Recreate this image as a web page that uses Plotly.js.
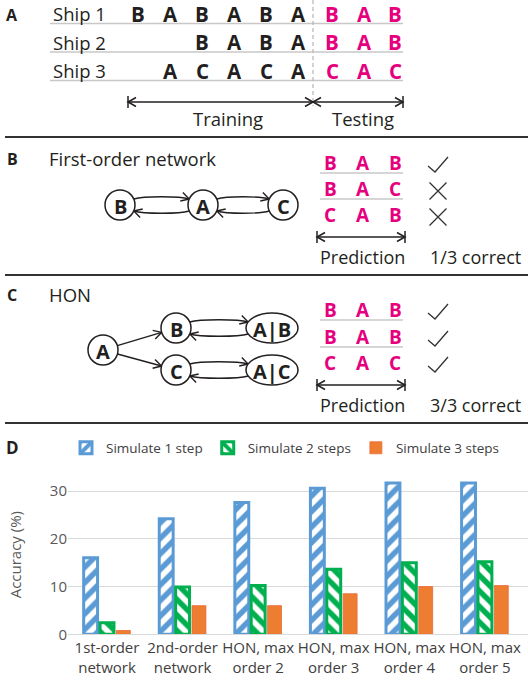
<!DOCTYPE html>
<html>
<head>
<meta charset="utf-8">
<script src="https://cdn.plot.ly/plotly-3.0.1.min.js"></script>
<style>html,body{margin:0;padding:0;background:#fff;}#chart{width:528px;height:686px;}</style>
</head>
<body>
<div id="chart"></div>
<script>
// ---------- Panel A: ship sequences ----------
const shipLabels = ['Ship 1', 'Ship 2', 'Ship 3'];
const trainSeqs = [
  ['B', 'A', 'B', 'A', 'B', 'A'],
  ['B', 'A', 'B', 'A'],
  ['A', 'C', 'A', 'C', 'A']
];
const testSeqs = [
  ['B', 'A', 'B'],
  ['B', 'A', 'B'],
  ['C', 'A', 'C']
];
const phaseLabels = ['Training', 'Testing'];

// ---------- Panel B: first-order network ----------
const firstOrderTitle = 'First-order network';
const firstOrderNodes = ['B', 'A', 'C'];
const firstOrderPred = [['B', 'A', 'B'], ['B', 'A', 'C'], ['C', 'A', 'B']];
const firstOrderCorrect = [true, false, false];
const firstOrderScore = '1/3 correct';

// ---------- Panel C: HON ----------
const honTitle = 'HON';
const honNodes = ['A', 'B', 'C', 'A|B', 'A|C'];
const honPred = [['B', 'A', 'B'], ['B', 'A', 'B'], ['C', 'A', 'C']];
const honCorrect = [true, true, true];
const honScore = '3/3 correct';
const predLabel = 'Prediction';

// ---------- Panel D: accuracy bars ----------
const categories = ['1st-order<br>network', '2nd-order<br>network', 'HON, max<br>order 2',
                    'HON, max<br>order 3', 'HON, max<br>order 4', 'HON, max<br>order 5'];
const seriesNames = ['Simulate 1 step', 'Simulate 2 steps', 'Simulate 3 steps'];
const step1 = [16.0, 24.2, 27.6, 30.6, 31.7, 31.7];
const step2 = [2.4, 9.9, 10.2, 13.6, 15.0, 15.2];
const step3 = [0.8, 6.0, 6.0, 8.5, 10.0, 10.2];
const yTicks = [0, 10, 20, 30];
const yTitle = 'Accuracy (%)';
const panelLabels = ['A', 'B', 'C', 'D'];

// ---------- styling helpers ----------
const FONT = '"Open Sans", "Noto Sans", sans-serif';
const INK = '#231f20';
const MAG = '#e6007e';
const RULE = '#c8c8c8';
const shapes = [];
const annos = [];

function T(x, y, text, size, color, extra) {
  annos.push(Object.assign({xref: 'x2', yref: 'y2', x: x, y: y, text: text, showarrow: false,
    xanchor: 'center', yanchor: 'middle', font: {family: FONT, size: size, color: color}}, extra || {}));
}
function L(x0, y0, x1, y1, color, width, dash) {
  shapes.push({type: 'line', xref: 'x2', yref: 'y2', x0: x0, y0: y0, x1: x1, y1: y1,
    line: {color: color, width: width, dash: dash || 'solid'}});
}
function P(path, color, width) {
  shapes.push({type: 'path', xref: 'x2', yref: 'y2', path: path, line: {color: color, width: width}});
}
function head(tx, ty, dx, dy) {
  const n = Math.hypot(dx, dy); dx /= n; dy /= n;
  const len = 8, w = 4.5;
  const bx = tx - dx * len, by = ty - dy * len;
  return 'M' + (bx - dy * w) + ',' + (by + dx * w) + ' L' + tx + ',' + ty + ' L' + (bx + dy * w) + ',' + (by - dx * w);
}
function dimArrow(x0, x1, y, mids) {
  L(x0, y, x1, y, INK, 1.5);
  L(x0, y - 6, x0, y + 6, INK, 1.5);
  L(x1, y - 6, x1, y + 6, INK, 1.5);
  P(head(x0, y, -1, 0), INK, 1.5);
  P(head(x1, y, 1, 0), INK, 1.5);
  (mids || []).forEach(function (m) {
    P(head(m, y, 1, 0), INK, 1.5);
    P(head(m, y, -1, 0), INK, 1.5);
  });
}
function node(cx, cy, rx, ry, label) {
  shapes.push({type: 'circle', xref: 'x2', yref: 'y2', x0: cx - rx, x1: cx + rx, y0: cy - ry, y1: cy + ry,
    line: {color: INK, width: 1.5}, fillcolor: 'white'});
  T(cx, cy + 1, '<b>' + label + '</b>', 20, INK);
}
function edgeX(rx, ry, dy) { return rx * Math.sqrt(1 - (dy * dy) / (ry * ry)); }
function dblArrow(x1, rx1, ry1, x2, rx2, ry2, y) {
  const off = 6;
  const sx = x1 + edgeX(rx1, ry1, off), ex = x2 - edgeX(rx2, ry2, off);
  P('M' + sx + ',' + (y - off) + ' C' + (sx + 10) + ',' + (y - off - 3) + ' ' + (ex - 10) + ',' + (y - off - 3) + ' ' + ex + ',' + (y - off), INK, 1.4);
  P(head(ex, y - off, 10, 3), INK, 1.4);
  P('M' + ex + ',' + (y + off) + ' C' + (ex - 10) + ',' + (y + off + 3) + ' ' + (sx + 10) + ',' + (y + off + 3) + ' ' + sx + ',' + (y + off), INK, 1.4);
  P(head(sx, y + off, -10, -3), INK, 1.4);
}
function straightArrow(ax, ay, ar, bx, by, br) {
  const dx = bx - ax, dy = by - ay, n = Math.hypot(dx, dy);
  const ux = dx / n, uy = dy / n;
  const sx = ax + ux * ar, sy = ay + uy * ar, ex = bx - ux * br, ey = by - uy * br;
  P('M' + sx + ',' + sy + ' L' + ex + ',' + ey, INK, 1.4);
  P(head(ex, ey, ux, uy), INK, 1.4);
}
function mark(cx, cy, ok) {
  if (ok) P('M' + (cx - 10) + ',' + (cy + 1) + ' L' + (cx - 3) + ',' + (cy + 7) + ' L' + (cx + 10) + ',' + (cy - 8), '#333', 1.3);
  else P('M' + (cx - 8.5) + ',' + (cy - 8.5) + ' L' + (cx + 8.5) + ',' + (cy + 8.5) + ' M' + (cx - 8.5) + ',' + (cy + 8.5) + ' L' + (cx + 8.5) + ',' + (cy - 8.5), '#333', 1.3);
}
function predBlock(preds, correct, score, rowY, arrowY, textY) {
  const px = [330, 363, 395];
  preds.forEach(function (seq, i) {
    seq.forEach(function (ch, j) { T(px[j], rowY[i], '<b>' + ch + '</b>', 19, MAG); });
    if (i < preds.length - 1) L(320, rowY[i] + 10, 403, rowY[i] + 10, RULE, 1.5);
    mark(438, rowY[i] + 2, correct[i]);
  });
  dimArrow(317, 405, arrowY);
  T(362, textY, predLabel, 18, INK);
  T(475, textY, score, 18, INK);
}

// ---------- Panel A ----------
T(12, 15, '<b>' + panelLabels[0] + '</b>', 16, INK);
const rowY = [13.5, 42, 70.5];
const trainX = [138, 170, 202, 234, 266, 298];
const testX = [332, 364, 395];
shipLabels.forEach(function (s, i) {
  T(51, rowY[i], s, 18.5, INK, {xanchor: 'left'});
  const seq = trainSeqs[i], start = trainX.length - seq.length;
  seq.forEach(function (ch, j) { T(trainX[start + j], rowY[i], '<b>' + ch + '</b>', 20.5, INK); });
  testSeqs[i].forEach(function (ch, j) { T(testX[j], rowY[i], '<b>' + ch + '</b>', 20.5, MAG); });
  L(50, rowY[i] + 10, 403, rowY[i] + 10, RULE, 1.5);
});
L(313, 0, 313, 106, '#b5b5b5', 1.2, '4px,3px');
dimArrow(128, 403, 102, [313]);
T(228, 118, phaseLabels[0], 18.5, INK);
T(363, 118, phaseLabels[1], 18.5, INK);
L(5, 137, 528, 137, '#333', 2);

// ---------- Panel B ----------
T(12, 159, '<b>' + panelLabels[1] + '</b>', 16, INK);
T(47, 158, firstOrderTitle, 18.5, INK, {xanchor: 'left'});
const bNodeX = [120, 203, 283];
dblArrow(bNodeX[0], 15, 15, bNodeX[1], 15, 15, 205);
dblArrow(bNodeX[1], 15, 15, bNodeX[2], 15, 15, 205);
firstOrderNodes.forEach(function (n, i) { node(bNodeX[i], 205, 15, 15, n); });
predBlock(firstOrderPred, firstOrderCorrect, firstOrderScore, [163, 189, 215], 237, 257);
L(5, 275, 528, 275, '#333', 2);

// ---------- Panel C ----------
T(12, 295, '<b>' + panelLabels[2] + '</b>', 16, INK);
T(47, 294, honTitle, 18.5, INK, {xanchor: 'left'});
const hPos = {A: [103, 350, 15, 15], B: [176, 328, 15, 15], C: [176, 370, 15, 15],
              'A|B': [272, 328, 26, 15], 'A|C': [272, 370, 26, 15]};
straightArrow(103, 350, 15, 176, 328, 15);
straightArrow(103, 350, 15, 176, 370, 15);
dblArrow(176, 15, 15, 272, 26, 15, 328);
dblArrow(176, 15, 15, 272, 26, 15, 370);
honNodes.forEach(function (n) { const p = hPos[n]; node(p[0], p[1], p[2], p[3], n); });
predBlock(honPred, honCorrect, honScore, [310, 337, 363], 385, 405);
L(5, 423, 528, 423, '#333', 2);

// ---------- Panel D ----------
T(12, 447, '<b>' + panelLabels[3] + '</b>', 17, INK);

const traces = [
  {type: 'scatter', x: [], y: [], xaxis: 'x2', yaxis: 'y2', showlegend: false, hoverinfo: 'skip'},
  {type: 'bar', name: seriesNames[0], x: categories, y: step1,
   marker: {color: '#5b9bd5', line: {color: '#5b9bd5', width: 3},
            pattern: {shape: '/', fgcolor: '#5b9bd5', bgcolor: 'white', size: 11, solidity: 0.5}}},
  {type: 'bar', name: seriesNames[1], x: categories, y: step2,
   marker: {color: '#00b050', line: {color: '#00b050', width: 3},
            pattern: {shape: '\\', fgcolor: '#00b050', bgcolor: 'white', size: 11, solidity: 0.5}}},
  {type: 'bar', name: seriesNames[2], x: categories, y: step3,
   marker: {color: '#ed7d31', line: {color: '#ec6a3a', width: 0.8}}}
];

const layout = {
  width: 528, height: 686,
  margin: {l: 0, r: 0, t: 0, b: 0},
  paper_bgcolor: 'white', plot_bgcolor: 'rgba(0,0,0,0)',
  font: {family: FONT, color: '#404040'},
  barmode: 'group', bargap: 0.35, bargroupgap: 0.15,
  showlegend: true,
  legend: {orientation: 'h', x: 66 / 528, xanchor: 'left', y: 1 - 448 / 686, yanchor: 'middle',
           font: {family: FONT, size: 13.5, color: '#404040'}, bgcolor: 'rgba(0,0,0,0)', itemwidth: 30},
  xaxis: {domain: [68 / 528, 1], type: 'category', range: [-0.516, 5.57], automargin: false,
          showgrid: false, showline: true, linecolor: '#d9d9d9', linewidth: 1, ticks: '',
          tickfont: {family: FONT, size: 15, color: '#404040'}, fixedrange: true},
  yaxis: {domain: [(686 - 634.3) / 686, (686 - 475) / 686], range: [0, 33.35], automargin: false,
          tickvals: yTicks, showgrid: true, gridcolor: '#d9d9d9', gridwidth: 1, zeroline: false,
          showline: false, ticks: '', tickfont: {family: FONT, size: 15, color: '#595959'},
          title: {text: yTitle, font: {family: FONT, size: 15, color: '#595959'}, standoff: 24}, fixedrange: true},
  xaxis2: {domain: [0, 1], range: [0, 528], visible: false, anchor: 'y2', fixedrange: true},
  yaxis2: {domain: [0, 1], range: [686, 0], visible: false, anchor: 'x2', fixedrange: true},
  shapes: shapes,
  annotations: annos
};

Plotly.newPlot('chart', traces, layout, {displayModeBar: false, staticPlot: true});
</script>
</body>
</html>
